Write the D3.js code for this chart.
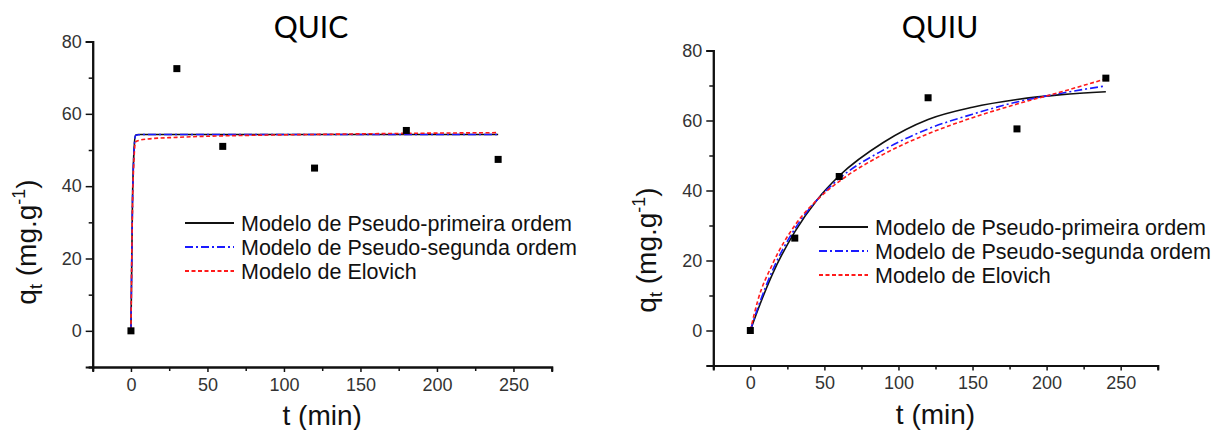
<!DOCTYPE html>
<html>
<head>
<meta charset="utf-8">
<script src="https://cdn.jsdelivr.net/npm/d3@7/dist/d3.min.js"></script>
<style>
  body { margin: 0; background: #fff; }
  svg { display: block; font-family: Arial, "Liberation Sans", sans-serif; }
</style>
</head>
<body>
<svg id="chart" width="1219" height="430"></svg>
<script>
// measured points (t in min, qt in mg/g)
var tPts = [0, 30, 60, 120, 180, 240];
var quicPts = [0, 72.5, 51, 45, 55.4, 47.4];
var quiuPts = [0, 26.4, 44, 66.5, 57.6, 72.1];

// fitted curves
var quicT = [0, 1, 2, 3, 5, 10, 30, 60, 120, 180, 240];
var quicPFO = [0, 36, 50, 54.1, 54.3, 54.3, 54.3, 54.3, 54.3, 54.3, 54.3];
var quicPSO = [0, 35, 49.5, 54, 54.2, 54.3, 54.3, 54.3, 54.3, 54.3, 54.3];
var quicElo = [0, 34, 47.5, 52.2, 52.6, 53.0, 53.5, 53.9, 54.3, 54.6, 54.8];

var quiuT = [0, 5, 15, 30, 45, 60, 90, 120, 150, 180, 210, 240];
var quiuPFO = [0, 5.8, 16.2, 28.2, 37.3, 44.2, 53.8, 60.3, 63.8, 66.0, 67.4, 68.2];
var quiuPSO = [0, 6.4, 17.2, 29.0, 37.3, 43.4, 51.6, 57.6, 61.8, 65.3, 67.8, 69.9];
var quiuElo = [0, 8.5, 19.0, 30.0, 37.3, 42.6, 50.4, 56.2, 60.8, 64.7, 68.2, 71.9];

var legendNames = ['Modelo de Pseudo-primeira ordem', 'Modelo de Pseudo-segunda ordem', 'Modelo de Elovich'];
var xTicks = [0, 50, 100, 150, 200, 250];
var yTicks = [0, 20, 40, 60, 80];

var styles = [
  {color: '#111', dash: null},
  {color: '#1a1aff', dash: '8,3,2,3'},
  {color: '#ff1a1a', dash: '4,2.5'}
];

var svg = d3.select('#chart');

function drawPanel(o){
  var x = d3.scaleLinear().domain([-25, 275]).range([o.x0, o.x1]);
  var y = d3.scaleLinear().domain([-10, 80]).range([o.y0, o.y1]);
  var g = svg.append('g');

  // axes
  g.append('g').attr('transform', 'translate(0,' + o.y0 + ')')
    .call(d3.axisBottom(x).tickValues(xTicks).tickSize(5).tickPadding(6).tickFormat(d3.format('d')));
  g.append('g').attr('transform', 'translate(0,' + o.y0 + ')')
    .call(d3.axisBottom(x).tickValues(d3.range(25, 275, 50)).tickSize(4).tickFormat(''));
  g.append('g').attr('transform', 'translate(' + o.x0 + ',0)')
    .call(d3.axisLeft(y).tickValues(yTicks).tickSize(7).tickPadding(4).tickFormat(d3.format('d')));
  g.append('g').attr('transform', 'translate(' + o.x0 + ',0)')
    .call(d3.axisLeft(y).tickValues([-10, 10, 30, 50, 70]).tickSize(4).tickFormat(''));

  g.selectAll('.domain').attr('stroke', '#111').attr('stroke-width', 2);
  g.selectAll('.tick line').attr('stroke', '#111').attr('stroke-width', 1.5);
  g.selectAll('.tick text').attr('font-size', 18).attr('fill', '#333').attr('font-family', 'Arial, "Liberation Sans", sans-serif');

  // model curves
  var line = d3.line().x(function(d){ return x(d[0]); }).y(function(d){ return y(d[1]); }).curve(d3.curveMonotoneX);
  o.curves.forEach(function(c, i){
    var pts = o.t.map(function(t, j){ return [t, c[j]]; });
    g.append('path').attr('d', line(pts)).attr('fill', 'none')
      .attr('stroke', styles[i].color).attr('stroke-width', 1.6)
      .attr('stroke-dasharray', styles[i].dash);
  });

  // data points
  g.selectAll('rect.pt').data(tPts).enter().append('rect').attr('class', 'pt')
    .attr('x', function(d){ return x(d) - 3.5; })
    .attr('y', function(d, i){ return y(o.pts[i]) - 3.5; })
    .attr('width', 7).attr('height', 7).attr('fill', '#000');

  // legend
  legendNames.forEach(function(name, i){
    var ly = o.legY + i * o.legStep;
    g.append('line').attr('x1', o.legX).attr('x2', o.legX + 49).attr('y1', ly).attr('y2', ly)
      .attr('stroke', styles[i].color).attr('stroke-width', 2).attr('stroke-dasharray', styles[i].dash);
    g.append('text').attr('x', o.legX + 56).attr('y', ly).attr('dy', '0.36em')
      .attr('font-size', 21.5).attr('fill', '#111').text(name);
  });

  // title
  g.append('text').attr('x', o.titleX).attr('y', 38).attr('text-anchor', 'middle')
    .attr('font-family', 'Lato, "Open Sans", sans-serif').attr('font-size', 30).attr('fill', '#000').text(o.title);

  // x label
  g.append('text').attr('x', (x(0) + x(250)) / 2).attr('y', o.y0 + 58).attr('text-anchor', 'middle')
    .attr('font-size', 28).attr('fill', '#111').text('t (min)');

  // y label
  var yl = g.append('text').attr('transform', 'translate(' + o.ylabX + ',' + o.ylabY + ') rotate(-90)')
    .attr('text-anchor', 'middle').attr('font-size', 28).attr('fill', '#111');
  yl.append('tspan').text('q');
  yl.append('tspan').attr('font-size', 18).attr('dy', 6).text('t');
  yl.append('tspan').attr('dy', -6).text(' (mg.g');
  yl.append('tspan').attr('font-size', 18).attr('dy', -11).text('-1');
  yl.append('tspan').attr('dy', 11).text(')');
}

drawPanel({
  x0: 92.7, x1: 551.7, y0: 367, y1: 41.5,
  t: quicT, curves: [quicPFO, quicPSO, quicElo], pts: quicPts,
  legX: 185, legY: 223, legStep: 24,
  title: 'QUIC', titleX: 311,
  ylabX: 36, ylabY: 242
});

drawPanel({
  x0: 713.3, x1: 1157.7, y0: 365.5, y1: 50.5,
  t: quiuT, curves: [quiuPFO, quiuPSO, quiuElo], pts: quiuPts,
  legX: 819, legY: 227, legStep: 24,
  title: 'QUIU', titleX: 940,
  ylabX: 656, ylabY: 250
});
</script>
</body>
</html>
